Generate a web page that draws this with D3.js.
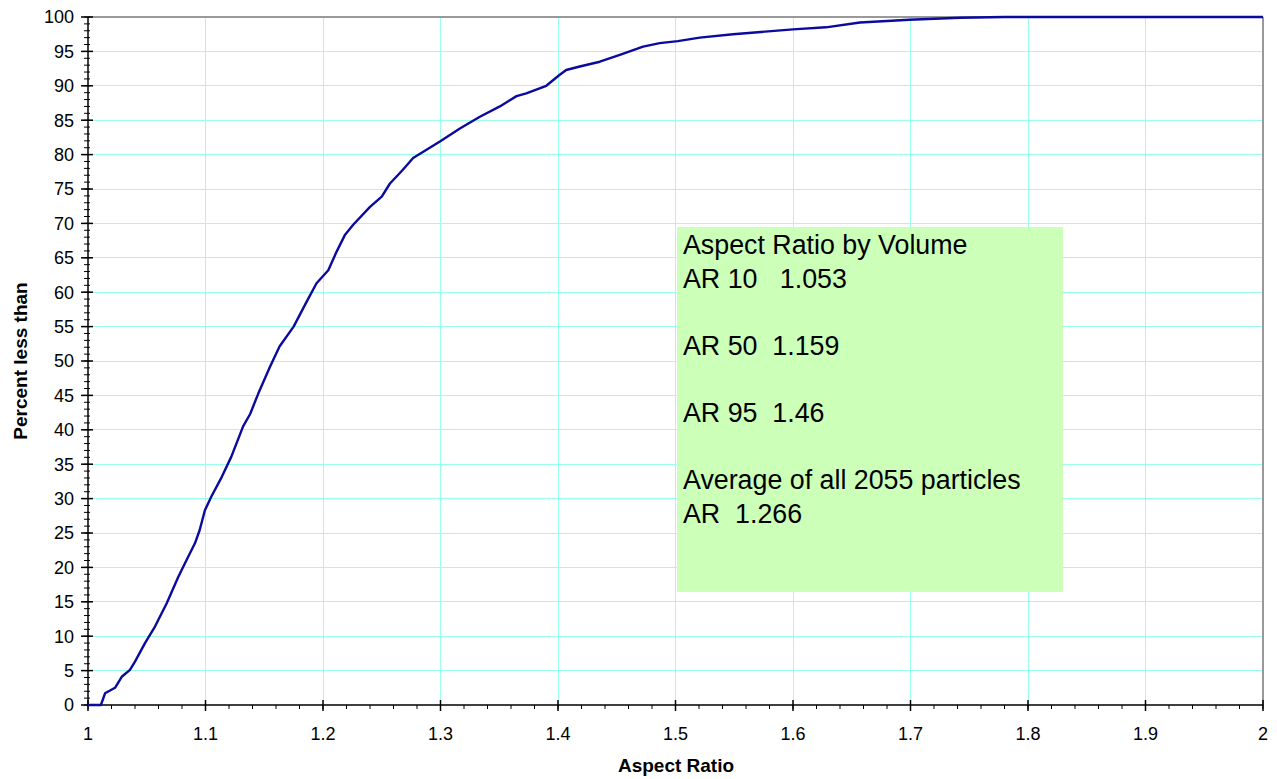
<!DOCTYPE html>
<html>
<head>
<meta charset="utf-8">
<script src="https://cdn.jsdelivr.net/npm/d3@7"></script>
<style>
  body { margin: 0; background: #fff; }
  svg { display: block; font-family: Arial, "Liberation Sans", sans-serif; }
</style>
</head>
<body>
<svg id="chart" width="1277" height="779"></svg>
<script>
// Cumulative distribution: aspect ratio vs percent less than
const aspectRatio = [1.000, 1.011, 1.0145, 1.023, 1.0287, 1.0357, 1.040, 1.0485, 1.057, 1.067, 1.0768, 1.084, 1.091, 1.095, 1.0995, 1.105, 1.114, 1.122, 1.132, 1.138, 1.145, 1.155, 1.163, 1.175, 1.186, 1.1945, 1.2045, 1.2116, 1.2186, 1.2257, 1.240, 1.250, 1.257, 1.268, 1.2767, 1.2995, 1.3165, 1.3335, 1.3505, 1.3647, 1.373, 1.390, 1.4015, 1.407, 1.4185, 1.4356, 1.4526, 1.4724, 1.4866, 1.502, 1.5206, 1.549, 1.600, 1.628, 1.657, 1.699, 1.742, 1.780, 2.000];
const percentLess = [0, 0, 1.7, 2.5, 4.1, 5.1, 6.3, 9.0, 11.4, 14.8, 18.6, 21.1, 23.5, 25.4, 28.3, 30.3, 33.2, 36.1, 40.5, 42.3, 45.3, 49.2, 52.1, 55.0, 58.6, 61.3, 63.2, 65.9, 68.3, 69.8, 72.4, 73.9, 75.8, 77.8, 79.5, 81.9, 83.8, 85.5, 87.0, 88.5, 88.9, 90.0, 91.6, 92.3, 92.8, 93.5, 94.5, 95.7, 96.2, 96.5, 97.0, 97.5, 98.2, 98.5, 99.2, 99.6, 99.9, 100, 100];

const xTicks = [1, 1.1, 1.2, 1.3, 1.4, 1.5, 1.6, 1.7, 1.8, 1.9, 2];
const xTickLabels = ["1", "1.1", "1.2", "1.3", "1.4", "1.5", "1.6", "1.7", "1.8", "1.9", "2"];
const yTicks = [0, 5, 10, 15, 20, 25, 30, 35, 40, 45, 50, 55, 60, 65, 70, 75, 80, 85, 90, 95, 100];

const xTitle = "Aspect Ratio";
const yTitle = "Percent less than";
const noteLines = ["Aspect Ratio by Volume", "AR 10   1.053", "", "AR 50  1.159", "", "AR 95  1.46", "", "Average of all 2055 particles", "AR  1.266"];

(function () {
const svg = d3.select("#chart");
const pL = 88, pR = 1263, pT = 17, pB = 705;

const x = d3.scaleLinear().domain([1, 2]).range([pL, pR]);
const y = d3.scaleLinear().domain([0, 100]).range([pB, pT]);

const gridColor = "#99ffe6";

// Gridlines
svg.append("g").selectAll("line").data(xTicks.slice(1, -1)).join("line")
  .attr("x1", d => x(d)).attr("x2", d => x(d))
  .attr("y1", pT).attr("y2", pB)
  .attr("stroke", gridColor).attr("stroke-width", 1).attr("shape-rendering", "crispEdges");
svg.append("g").selectAll("line").data(yTicks.slice(1, -1)).join("line")
  .attr("x1", pL).attr("x2", pR)
  .attr("y1", d => y(d)).attr("y2", d => y(d))
  .attr("stroke", gridColor).attr("stroke-width", 1).attr("shape-rendering", "crispEdges");

// Frame: top and right in gray
svg.append("line").attr("x1", pL).attr("x2", pR).attr("y1", pT).attr("y2", pT)
  .attr("stroke", "#999").attr("stroke-width", 2);
svg.append("line").attr("x1", pR).attr("x2", pR).attr("y1", pT).attr("y2", pB)
  .attr("stroke", "#999").attr("stroke-width", 2);

// Note box
const bx = 677, by = 227, bw = 386, bh = 365;
svg.append("rect").attr("x", bx).attr("y", by).attr("width", bw).attr("height", bh)
  .attr("fill", "#ccffb8");
svg.append("g").selectAll("text").data(noteLines).join("text")
  .attr("x", 683).attr("y", (d, i) => 254 + i * 33.6)
  .attr("font-size", 26.8).attr("fill", "#000")
  .style("white-space", "pre")
  .text(d => d);

// X axis
const xMinor = d3.range(0, 51).map(i => 1 + i * 0.02);
const ax = svg.append("g");
ax.append("line").attr("x1", pL).attr("x2", pR).attr("y1", pB).attr("y2", pB)
  .attr("stroke", "#000").attr("stroke-width", 1.5);
ax.selectAll(".mn").data(xMinor).join("line").attr("class", "mn")
  .attr("x1", d => x(d)).attr("x2", d => x(d)).attr("y1", pB).attr("y2", pB + 4)
  .attr("stroke", "#000").attr("stroke-width", 1);
ax.selectAll(".mj").data(xTicks).join("line").attr("class", "mj")
  .attr("x1", d => x(d)).attr("x2", d => x(d)).attr("y1", pB - 5).attr("y2", pB + 6)
  .attr("stroke", "#000").attr("stroke-width", 1.5);
ax.selectAll("text").data(xTicks).join("text")
  .attr("x", d => x(d)).attr("y", 740)
  .attr("text-anchor", "middle").attr("font-size", 18).attr("fill", "#000")
  .text((d, i) => xTickLabels[i]);

// Y axis
const yMinor = d3.range(0, 101, 1);
const ay = svg.append("g");
ay.append("line").attr("x1", pL).attr("x2", pL).attr("y1", pT).attr("y2", pB)
  .attr("stroke", "#000").attr("stroke-width", 1.5);
ay.selectAll(".mn").data(yMinor).join("line").attr("class", "mn")
  .attr("x1", pL - 4).attr("x2", pL + 2).attr("y1", d => y(d)).attr("y2", d => y(d))
  .attr("stroke", "#000").attr("stroke-width", 1);
ay.selectAll(".mj").data(yTicks).join("line").attr("class", "mj")
  .attr("x1", pL - 7).attr("x2", pL + 5).attr("y1", d => y(d)).attr("y2", d => y(d))
  .attr("stroke", "#000").attr("stroke-width", 1.5);
ay.selectAll("text").data(yTicks).join("text")
  .attr("x", 74).attr("y", d => y(d) + 6.4)
  .attr("text-anchor", "end").attr("font-size", 18).attr("fill", "#000")
  .text(d => String(d));

// Curve (drawn on top of axes and frame)
const pts = aspectRatio.map((v, i) => [v, percentLess[i]]);
svg.append("path").datum(pts)
  .attr("fill", "none").attr("stroke", "#0a0a9e").attr("stroke-width", 2.4)
  .attr("stroke-linejoin", "round")
  .attr("d", d3.line().x(d => x(d[0])).y(d => y(d[1])));

// Titles
svg.append("text").attr("x", 676).attr("y", 772)
  .attr("text-anchor", "middle").attr("font-size", 19).attr("font-weight", "bold")
  .text(xTitle);
svg.append("text").attr("transform", "translate(27, 361) rotate(-90)")
  .attr("text-anchor", "middle").attr("font-size", 19).attr("font-weight", "bold")
  .text(yTitle);
})();
</script>
</body>
</html>
